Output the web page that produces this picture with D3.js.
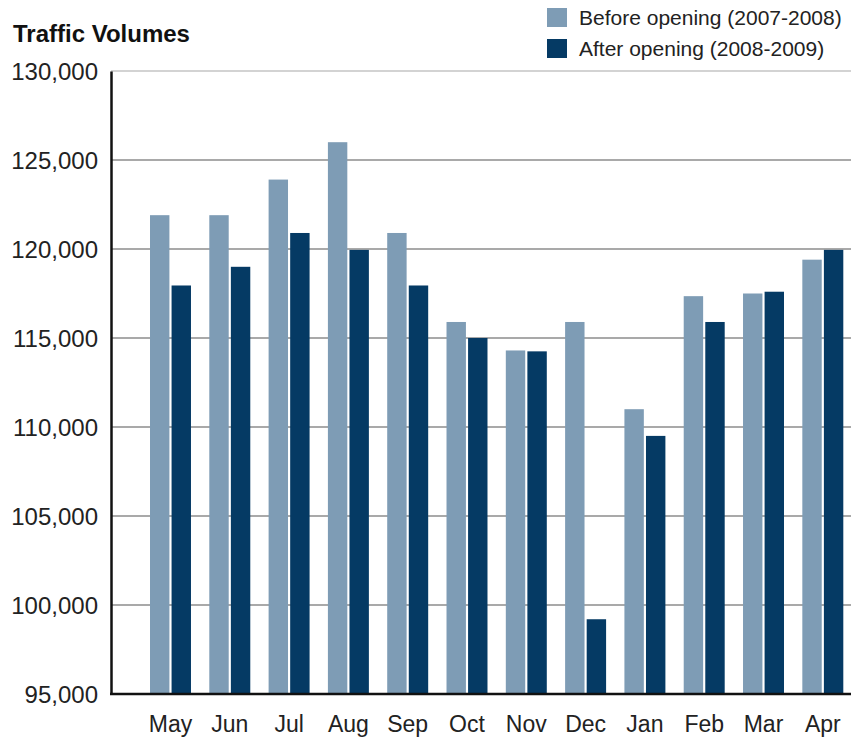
<!DOCTYPE html>
<html>
<head>
<meta charset="utf-8">
<script src="https://cdn.jsdelivr.net/npm/d3@7"></script>
<style>
  html, body { margin: 0; padding: 0; background: #fff; }
  svg { display: block; }
  text { font-family: Arial, "Liberation Sans", Helvetica, sans-serif; }
</style>
</head>
<body>
<svg id="chart" width="851" height="737"></svg>
<script>
const months = ["May","Jun","Jul","Aug","Sep","Oct","Nov","Dec","Jan","Feb","Mar","Apr"];
const beforeOpening = [121900,121900,123900,126000,120900,115900,114300,115900,111000,117350,117500,119400];
const afterOpening  = [117950,119000,120900,119950,117950,115000,114250,99200,109500,115900,117600,119950];
const yTicks = [95000,100000,105000,110000,115000,120000,125000,130000];
const seriesNames = ["Before opening (2007-2008)", "After opening (2008-2009)"];
const seriesKeys = ["before","after"];
const colors = ["#7e9cb5", "#053a64"];

const W = 851, H = 737;
const plotLeft = 111, plotRight = 851, plotTop = 71, plotBottom = 694;

const svg = d3.select("#chart");

const y = d3.scaleLinear().domain([95000,130000]).range([plotBottom, plotTop]);
const x0 = d3.scaleBand().domain(months)
  .range([plotLeft + 39, plotLeft + 39 + 59.3*11 + 41])
  .paddingInner(0.309).paddingOuter(0);
const x1 = d3.scaleBand().domain(seriesKeys).range([0, x0.bandwidth()]).paddingInner(0.1);

// gridlines
svg.append("g")
  .selectAll("line")
  .data(yTicks.filter(t => t > 95000))
  .join("line")
  .attr("x1", plotLeft).attr("x2", plotRight)
  .attr("y1", d => y(d)).attr("y2", d => y(d))
  .attr("stroke", d => d === 130000 ? "#c4c4c4" : "#8c8c8c")
  .attr("stroke-width", 1.6);

// bars
const rows = months.map((m, i) => ({ month: m, before: beforeOpening[i], after: afterOpening[i] }));
const groups = svg.append("g").selectAll("g")
  .data(rows).join("g")
  .attr("transform", d => `translate(${x0(d.month)},0)`);
groups.selectAll("rect")
  .data(d => seriesKeys.map((k, j) => ({ key: k, value: d[k], color: colors[j] })))
  .join("rect")
  .attr("x", d => x1(d.key))
  .attr("width", x1.bandwidth())
  .attr("y", d => y(d.value))
  .attr("height", d => y(95000) - y(d.value))
  .attr("fill", d => d.color);

// y axis
const yAxis = d3.axisLeft(y).tickValues(yTicks).tickSize(0).tickPadding(13)
  .tickFormat(d3.format(","));
const yg = svg.append("g").attr("transform", `translate(${plotLeft},0)`).call(yAxis);
yg.select(".domain").attr("stroke", "#111").attr("stroke-width", 2.5);
yg.selectAll("text").attr("font-size", 24).attr("fill", "#222").attr("dy", "0.36em");

// x axis
const xAxis = d3.axisBottom(x0).tickSize(0).tickPadding(22);
const xg = svg.append("g").attr("transform", `translate(0,${plotBottom})`).call(xAxis);
xg.select(".domain").remove();
xg.selectAll("text").attr("font-size", 23).attr("fill", "#222");
svg.append("line")
  .attr("x1", plotLeft - 1).attr("x2", plotRight)
  .attr("y1", plotBottom).attr("y2", plotBottom)
  .attr("stroke", "#111").attr("stroke-width", 2.5);

// title
svg.append("text")
  .attr("x", 13).attr("y", 42)
  .attr("font-size", 24).attr("font-weight", "bold").attr("fill", "#111")
  .text("Traffic Volumes");

// legend
const lg = svg.append("g").selectAll("g")
  .data(seriesNames).join("g")
  .attr("transform", (d, i) => `translate(547,${8 + i * 31})`);
lg.append("rect").attr("width", 20).attr("height", 19)
  .attr("fill", (d, i) => colors[i]);
lg.append("text").attr("x", 32).attr("y", 17)
  .attr("font-size", 21).attr("fill", "#222")
  .text(d => d);
</script>
</body>
</html>
